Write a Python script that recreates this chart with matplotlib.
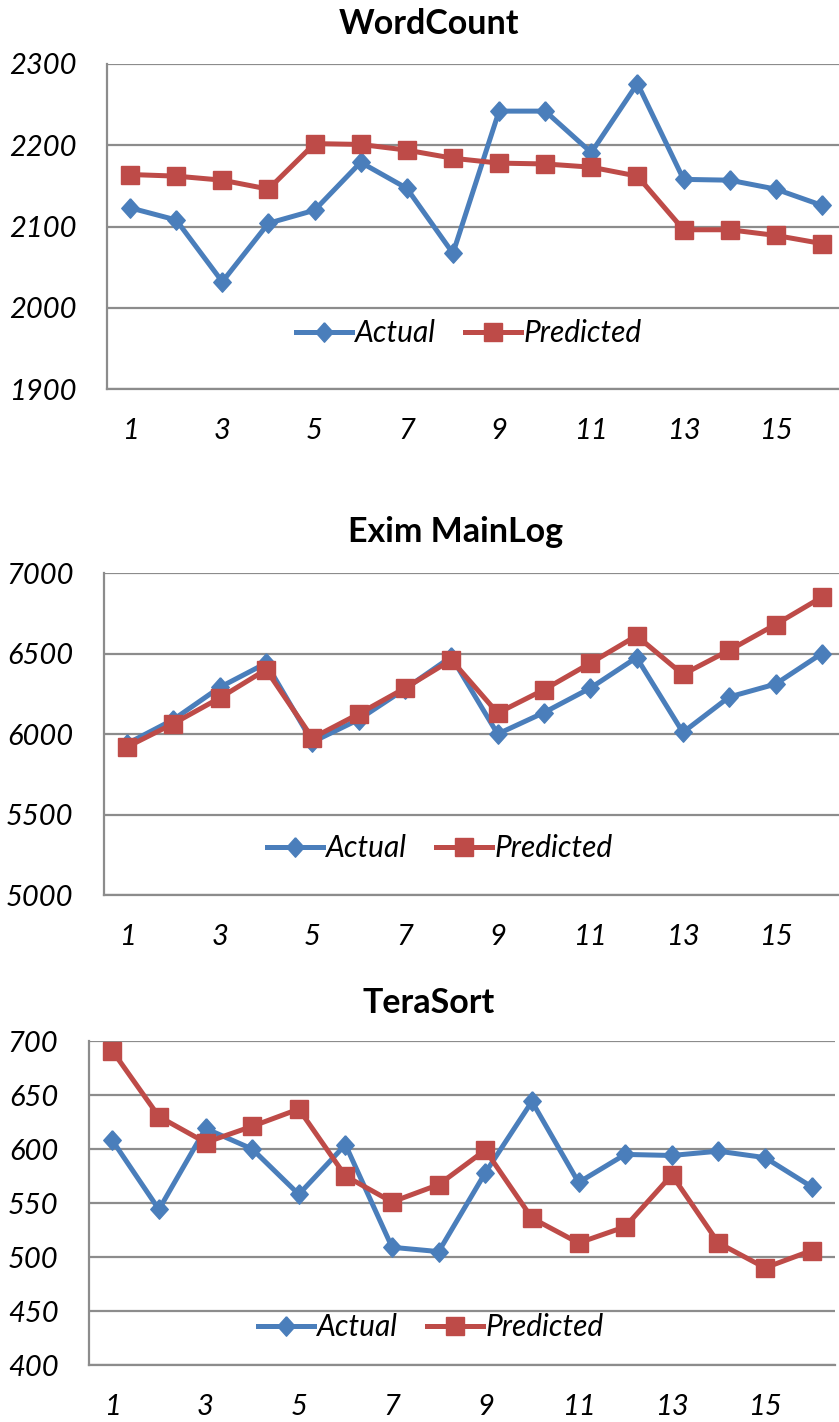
import matplotlib
matplotlib.use("Agg")
import matplotlib.pyplot as plt
import numpy as np

# ---- data ----
x_cats = list(range(1, 17))
xtick_labels = ["1", "3", "5", "7", "9", "11", "13", "15"]

wc_actual = [2123, 2108, 2032, 2104, 2120, 2179, 2147, 2067, 2242, 2242, 2191, 2276, 2158, 2157, 2146, 2126]
wc_pred = [2164, 2162, 2157, 2146, 2202, 2201, 2194, 2184, 2178, 2177, 2173, 2162, 2096, 2096, 2089, 2079]
wc_yticks = [1900, 2000, 2100, 2200, 2300]

ex_actual = [5940, 6090, 6290, 6440, 5950, 6090, 6280, 6480, 6000, 6133, 6285, 6475, 6010, 6230, 6310, 6500]
ex_pred = [5920, 6065, 6224, 6400, 5975, 6125, 6285, 6460, 6130, 6275, 6440, 6610, 6370, 6520, 6680, 6850]
ex_yticks = [5000, 5500, 6000, 6500, 7000]

ts_actual = [608, 544, 619, 600, 558, 604, 509, 505, 578, 644, 569, 595, 594, 598, 592, 565]
ts_pred = [691, 630, 606, 621, 637, 575, 551, 567, 599, 536, 513, 528, 576, 513, 490, 506]
ts_yticks = [400, 450, 500, 550, 600, 650, 700]

titles = ["WordCount", "Exim MainLog", "TeraSort"]
series_names = ["Actual", "Predicted"]

# ---- style ----
W, H = 839, 1422
DPI = 100
BLUE = "#4A7EBB"
RED = "#BE4B48"
GRID = "#8C8C8C"
FONT = "Lato"

fig = plt.figure(figsize=(W / DPI, H / DPI), dpi=DPI)
fig.patch.set_facecolor("white")

def rect(l, r, t, b):
    return [l / W, 1 - b / H, (r - l) / W, (b - t) / H]

panels = [
    dict(rect=rect(107, 845, 64, 389), a=wc_actual, p=wc_pred, yt=wc_yticks,
         title=titles[0], tx=429, ty=34, lx=469, ly=333),
    dict(rect=rect(104, 845, 573, 895), a=ex_actual, p=ex_pred, yt=ex_yticks,
         title=titles[1], tx=456, ty=542, lx=440, ly=848),
    dict(rect=rect(89, 835, 1041, 1365), a=ts_actual, p=ts_pred, yt=ts_yticks,
         title=titles[2], tx=429, ty=1013, lx=431, ly=1327),
]

diamond = [(0, 1), (0.9, 0), (0, -1), (-0.9, 0), (0, 1)]

for pn in panels:
    ax = fig.add_axes(pn["rect"])
    ax.set_facecolor("white")
    ax.plot(x_cats, pn["a"], color=BLUE, lw=3.6, marker=diamond, ms=14,
            markerfacecolor=BLUE, markeredgecolor=BLUE, label=series_names[0],
            solid_joinstyle="miter", zorder=3)
    ax.plot(x_cats, pn["p"], color=RED, lw=3.6, marker="s", ms=13,
            markerfacecolor=RED, markeredgecolor=RED, label=series_names[1],
            zorder=3)
    ax.set_xlim(0.5, 16.5)
    ax.set_ylim(pn["yt"][0], pn["yt"][-1])
    ax.set_yticks(pn["yt"])
    ax.set_yticklabels([str(v) for v in pn["yt"]])
    ax.set_xticks(x_cats[::2])
    ax.set_xticklabels(xtick_labels)
    ax.yaxis.grid(True, color=GRID, lw=1.6, zorder=0)
    ax.set_axisbelow(True)
    for s in ["top", "right"]:
        ax.spines[s].set_visible(False)
    for s in ["left", "bottom"]:
        ax.spines[s].set_color(GRID)
        ax.spines[s].set_linewidth(1.6)
    ax.tick_params(axis="both", length=0, labelsize=21)
    ax.tick_params(axis="y", pad=22)
    ax.tick_params(axis="x", pad=21)
    for lab in ax.get_xticklabels() + ax.get_yticklabels():
        lab.set_fontfamily(FONT)
        lab.set_fontstyle("italic")
    fig.text(pn["tx"] / W, 1 - pn["ty"] / H, pn["title"], ha="center", va="baseline",
             fontsize=24.5, fontweight="bold", family=FONT)
    ax.legend(loc="center", bbox_to_anchor=(pn["lx"] / W, 1 - pn["ly"] / H),
              bbox_transform=fig.transFigure, ncol=2, frameon=False,
              handlelength=1.85, handletextpad=0.1, columnspacing=1.0,
              numpoints=1, prop=dict(family=FONT, style="italic", size=21.5))

fig.savefig("out.png", dpi=DPI, facecolor="white")
